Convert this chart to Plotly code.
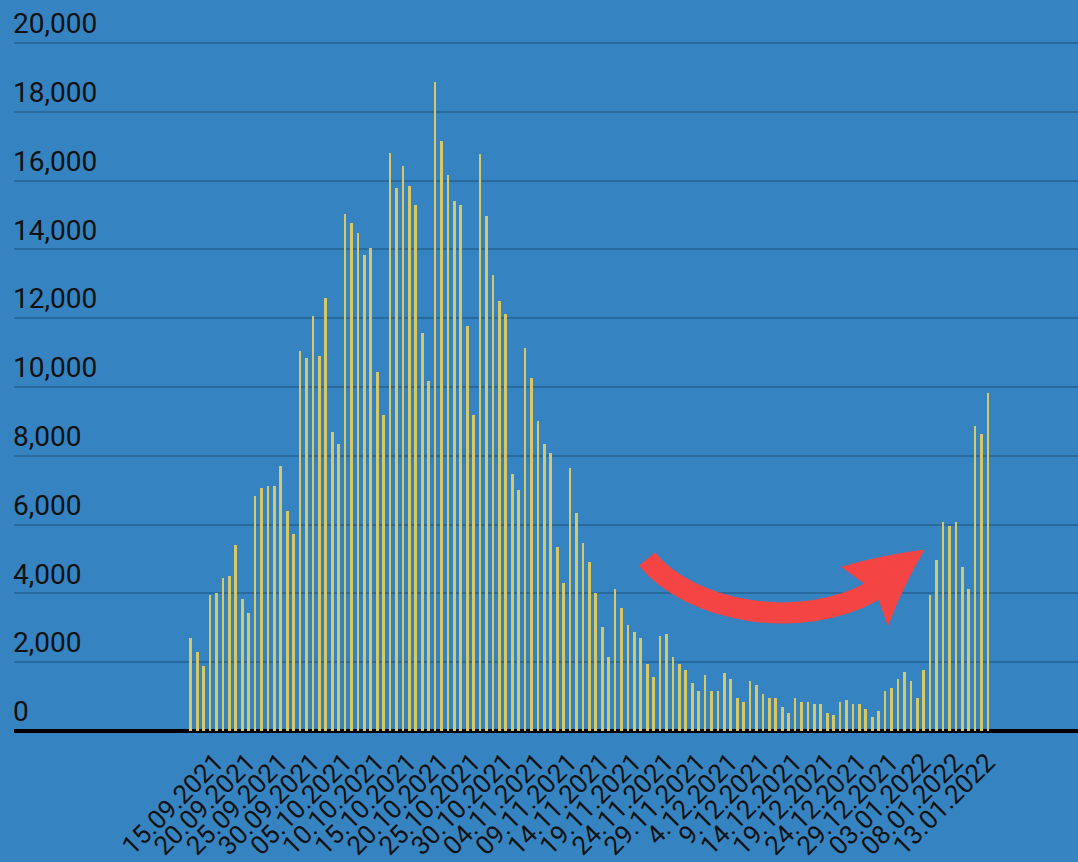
import pandas as pd
import plotly.graph_objects as go

# ---- data ----
start_date = "2021-09-15"
cases = [
    2700, 2300, 1900, 3950, 4000, 4450, 4520, 5400, 3850, 3430,
    6830, 7050, 7130, 7130, 7700, 6390, 5720, 11050, 10850, 12050,
    10900, 12600, 8700, 8330, 15030, 14780, 14470, 13850, 14040, 10440,
    9180, 16790, 15790, 16420, 15840, 15280, 11560, 10180, 18880, 17150,
    16150, 15410, 15280, 11760, 9200, 16780, 14980, 13250, 12490, 12110,
    7460, 7020, 11120, 10250, 9010, 8340, 8080, 5350, 4290, 7650,
    6330, 5470, 4900, 4010, 3020, 2150, 4140, 3580, 3070, 2890,
    2700, 1950, 1580, 2760, 2820, 2150, 1950, 1770, 1390, 1150,
    1640, 1150, 1150, 1700, 1520, 960, 840, 1450, 1330, 1090,
    960, 960, 710, 525, 950, 840, 840, 780, 780, 525,
    470, 840, 890, 780, 780, 640, 400, 580, 1150, 1260,
    1520, 1710, 1450, 950, 1770, 3960, 4960, 6080, 5950, 6080,
    4760, 4140, 8880, 8630, 9820,
]
tick_labels = [
    "15.09.2021", "20.09.2021", "25.09.2021", "30.09.2021", "05.10.2021",
    "10.10.2021", "15.10.2021", "20.10.2021", "25.10.2021", "30.10.2021",
    "04.11.2021", "09.11.2021", "14.11.2021", "19.11.2021", "24.11.2021",
    "29.11.2021", "4.12.2021", "9.12.2021", "14.12.2021", "19.12.2021",
    "24.12.2021", "29.12.2021", "03.01.2022", "08.01.2022", "13.01.2022",
]
y_ticks = list(range(0, 20001, 2000))

dates = pd.date_range(start_date, periods=len(cases), freq="D")
tick_dates = dates[::5][: len(tick_labels)]

BG = "#3584c1"
GRID = "#2a6a9d"
BAR = "#d6c866"
TXT = "#111111"
RED = "#f54444"

fig = go.Figure()
fig.add_trace(go.Bar(
    x=dates, y=cases,
    marker=dict(color=BAR, line=dict(width=0)),
    width=0.42 * 86400000,
    hoverinfo="x+y",
))

# plot area in pixels: x 14..1078, y 0..731 (0 at 731, 20000 at 43)
L, T, W, H = 14, 0, 1064, 731
Y_TOP = 20000 * 731 / 688

def pt(x, y):
    return f"{(x - L) / W:.5f},{(T + H - y) / H:.5f}"

shaft = f"M {pt(647,559)} C {pt(690,612)} {pt(800,632)} {pt(873,591)}"
head = (f"M {pt(842,567)} Q {pt(880,556)} {pt(924,550)} "
        f"Q {pt(903,585)} {pt(888,625)} L {pt(879,600)} "
        f"L {pt(864,583)} Z")

fig.update_layout(
    width=1078, height=862,
    margin=dict(l=L, r=0, t=T, b=862 - T - H, pad=0),
    paper_bgcolor=BG, plot_bgcolor=BG,
    showlegend=False,
    bargap=0,
    font=dict(family="Roboto", size=26, color=TXT),
    xaxis=dict(
        type="date",
        range=[dates[0] - pd.Timedelta(days=27.5), dates[0] + pd.Timedelta(days=138)],
        tickmode="array", tickvals=tick_dates, ticktext=tick_labels,
        tickangle=-45, showgrid=False, zeroline=False, showline=False,
        ticks="", ticklabelshift=25, ticklabelstandoff=10,
        tickfont=dict(family="Roboto", size=26, color=TXT),
    ),
    yaxis=dict(
        range=[0, Y_TOP], tickvals=y_ticks,
        ticktext=[f"{v:,}" for v in y_ticks],
        ticklabelposition="inside top", ticklabelstandoff=-4,
        showgrid=True, gridcolor=GRID, gridwidth=2,
        zeroline=True, zerolinecolor="#000000", zerolinewidth=4,
        showline=False, ticks="",
        tickfont=dict(family="Roboto", size=28, color=TXT),
    ),
    shapes=[
        dict(type="path", xref="paper", yref="paper", path=shaft,
             line=dict(color=RED, width=21), layer="above"),
        dict(type="path", xref="paper", yref="paper", path=head,
             fillcolor=RED, line=dict(color=RED, width=1), layer="above"),
    ],
)

fig.write_html(
    "out.html",
    config={"displayModeBar": False},
    post_script="document.body.style.margin='0';document.body.style.overflow='hidden';",
)
